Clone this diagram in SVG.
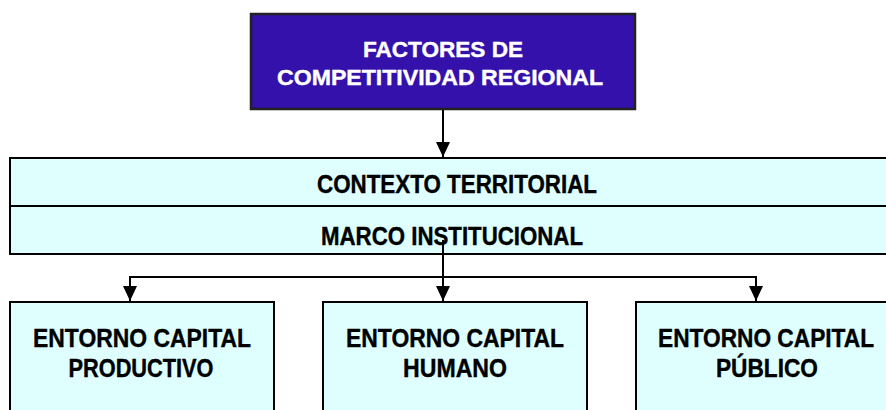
<svg xmlns="http://www.w3.org/2000/svg" width="886" height="410" viewBox="0 0 886 410">
<defs>
<marker id="ah" markerWidth="14" markerHeight="14" refX="15" refY="7" orient="auto" markerUnits="userSpaceOnUse">
<path d="M0,0 L15,7 L0,14 Z" fill="#000"/>
</marker>
<style>
.t{font-family:"Liberation Sans",Arial,sans-serif;font-weight:bold;text-anchor:middle;stroke-width:0.4}
.s22{font-size:22px}
.s25{font-size:25px}
.s26{font-size:26px}
.k{fill:#000;stroke:#000}
.w{fill:#fff;stroke:#fff}
.box{fill:#DFFFFF;stroke:#000;stroke-width:2}
.c{stroke:#000;stroke-width:2;fill:none}
</style>
</defs>
<rect width="886" height="410" fill="#fff"/>
<g id="factores">
<rect x="251" y="14" width="384" height="95" fill="#3311AA" stroke="#222" stroke-width="2.5"/>
<text class="t s22 w" x="443" y="57" textLength="160" lengthAdjust="spacingAndGlyphs">FACTORES DE</text>
<text class="t s22 w" x="440" y="85" textLength="326" lengthAdjust="spacingAndGlyphs">COMPETITIVIDAD REGIONAL</text>
</g>
<g id="contexto">
<rect class="box" x="10" y="158" width="890" height="48"/>
<text class="t s25 k" x="457" y="193" textLength="280" lengthAdjust="spacingAndGlyphs">CONTEXTO TERRITORIAL</text>
</g>
<g id="marco">
<rect class="box" x="10" y="206" width="890" height="48"/>
<text class="t s25 k" x="452" y="245" textLength="262" lengthAdjust="spacingAndGlyphs">MARCO INSTITUCIONAL</text>
</g>
<g id="productivo">
<rect class="box" x="10" y="302" width="264" height="120"/>
<text class="t s26 k" x="142" y="347" textLength="218" lengthAdjust="spacingAndGlyphs">ENTORNO CAPITAL</text>
<text class="t s26 k" x="141" y="377" textLength="145" lengthAdjust="spacingAndGlyphs">PRODUCTIVO</text>
</g>
<g id="humano">
<rect class="box" x="323" y="302" width="264" height="120"/>
<text class="t s26 k" x="455" y="347" textLength="218" lengthAdjust="spacingAndGlyphs">ENTORNO CAPITAL</text>
<text class="t s26 k" x="455" y="377" textLength="104" lengthAdjust="spacingAndGlyphs">HUMANO</text>
</g>
<g id="publico">
<rect class="box" x="636" y="302" width="264" height="120"/>
<text class="t s26 k" x="766" y="347" textLength="216" lengthAdjust="spacingAndGlyphs">ENTORNO CAPITAL</text>
<text class="t s26 k" x="767" y="377" textLength="102" lengthAdjust="spacingAndGlyphs">PÚBLICO</text>
</g>
<g id="connectors">
<line class="c" x1="443" y1="110" x2="443" y2="157" marker-end="url(#ah)"/>
<line class="c" x1="443" y1="240" x2="443" y2="277"/>
<line class="c" x1="130" y1="277" x2="756" y2="277"/>
<line class="c" x1="130" y1="276" x2="130" y2="301" marker-end="url(#ah)"/>
<line class="c" x1="443" y1="276" x2="443" y2="301" marker-end="url(#ah)"/>
<line class="c" x1="756" y1="276" x2="756" y2="301" marker-end="url(#ah)"/>
</g>
</svg>
